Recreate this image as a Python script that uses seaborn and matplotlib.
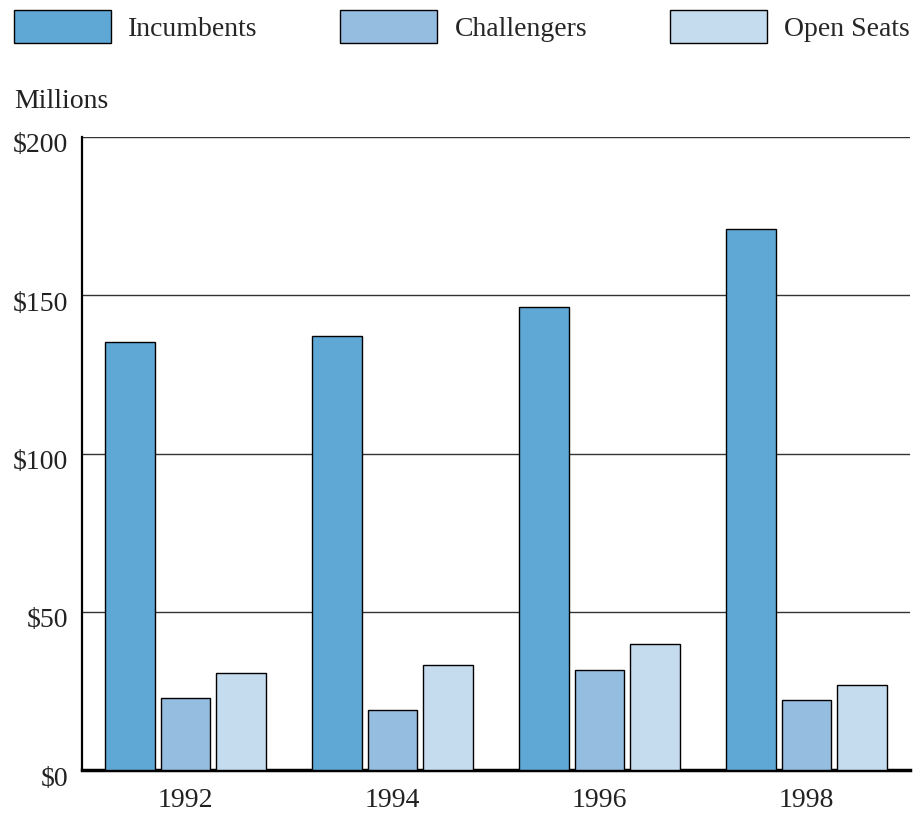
import pandas as pd
import matplotlib.pyplot as plt
import matplotlib.transforms as mtransforms
from matplotlib.patches import Patch
import seaborn as sns

# Campaign spending, millions of dollars
years = ["1992", "1994", "1996", "1998"]
incumbents = [135.3, 137.2, 146.4, 170.8]
challengers = [22.9, 19.1, 31.7, 22.2]
open_seats = [30.8, 33.3, 39.9, 27.0]

groups = ["Incumbents", "Challengers", "Open Seats"]
colors = ["#5fa8d5", "#94bde0", "#c5dbee"]

df = pd.DataFrame({
    "Year": years * 3,
    "Group": [g for g in groups for _ in years],
    "Spending": incumbents + challengers + open_seats,
})

sns.set_style("white")
plt.rcParams["font.family"] = ["Liberation Serif", "DejaVu Serif"]
plt.rcParams["font.size"] = 20

fig = plt.figure(figsize=(9.21, 8.14), dpi=100)
ax = fig.add_axes([82 / 921, 44 / 814, 828 / 921, 633 / 814])

sns.barplot(data=df, x="Year", y="Spending", hue="Group", order=years,
            hue_order=groups, palette=colors, saturation=1,
            edgecolor="black", linewidth=1, width=0.8, gap=0.1,
            legend=False, ax=ax, zorder=3)

ax.set_xlim(-0.5, 3.5)
ax.set_ylim(0, 200)
ax.set_yticks([0, 50, 100, 150, 200])
ax.set_yticklabels(["$0", "$50", "$100", "$150", "$200"])
ax.set_xlabel("")
ax.set_ylabel("")
ax.grid(axis="y", color="#333333", linewidth=1, zorder=0)
ax.set_axisbelow(True)
ax.tick_params(axis="y", length=0, pad=10, labelsize=20, colors="#222222")
ax.tick_params(axis="x", length=0, pad=13, labelsize=20, colors="#222222")

# y labels sit a little below their gridlines
offset = mtransforms.ScaledTranslation(0, -6 / 100, fig.dpi_scale_trans)
for lbl in ax.get_yticklabels():
    lbl.set_transform(lbl.get_transform() + offset)

for side in ["top", "right"]:
    ax.spines[side].set_visible(False)
ax.spines["left"].set_linewidth(1.6)
ax.spines["left"].set_color("black")
ax.spines["bottom"].set_linewidth(2.5)
ax.spines["bottom"].set_color("black")

# legend boxes along the top, one entry each
for g, c, xpx in zip(groups, colors, [14, 340, 670]):
    leg = fig.legend(handles=[Patch(facecolor=c, edgecolor="black", linewidth=1)],
                     labels=[g], loc="upper left",
                     bbox_to_anchor=(xpx / 921, 1 - 10 / 814),
                     frameon=False, borderpad=0, borderaxespad=0,
                     handlelength=3.5, handleheight=1.45, handletextpad=0.62,
                     fontsize=20)

fig.text(14 / 921, 1 - 101 / 814, "Millions", fontsize=20, va="center",
         ha="left", color="#222222")

plt.savefig("out.png", dpi=100)
